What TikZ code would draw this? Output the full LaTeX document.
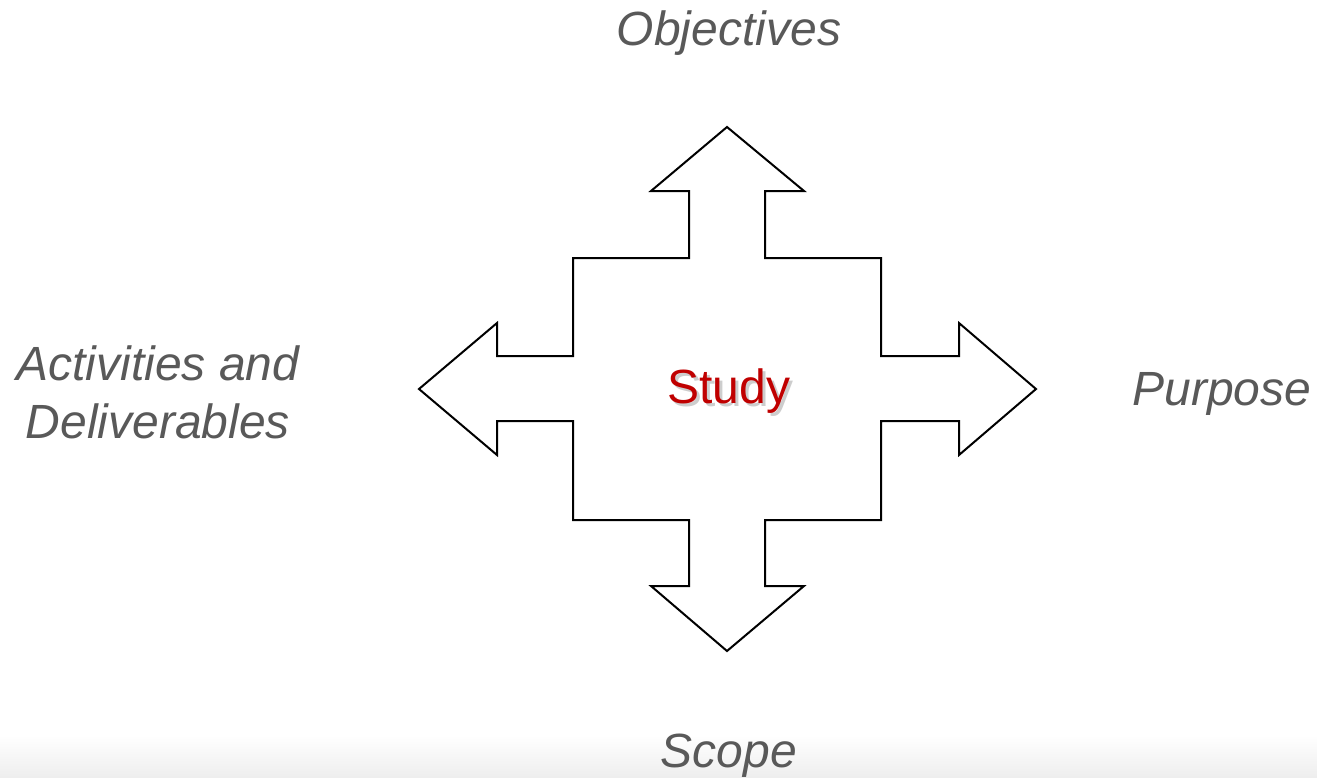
\documentclass[tikz,border=0pt]{standalone}
\usepackage{fontspec}
\setmainfont{Liberation Sans}
\definecolor{labelgray}{RGB}{89,89,89}
\definecolor{studyred}{RGB}{192,0,0}
\definecolor{studyshade}{RGB}{205,205,205}
\definecolor{shadegray}{RGB}{238,238,238}
\newcommand{\shadowtext}[1]{\rlap{\hspace{3pt}\raisebox{-3pt}{\textcolor{studyshade}{#1}}}#1}
\begin{document}
\begin{tikzpicture}[x=1pt,y=-1pt,
  lbl/.style={text=labelgray,font=\fontsize{48}{58}\selectfont\itshape,align=center,inner sep=0pt},
  outline/.style={draw=black,line width=2pt,line join=miter}]
\useasboundingbox (0,0) rectangle (1317,777);
\fill[white] (0,0) rectangle (1317,777);
\shade[top color=white,bottom color=shadegray] (0,735) rectangle (1317,777);
\draw[outline] (727,127) -- (804,191) -- (765,191) -- (765,258) -- (881,258) -- (881,356)
  -- (959,356) -- (959,323) -- (1036,389) -- (959,455) -- (959,421) -- (881,421)
  -- (881,520) -- (765,520) -- (765,586) -- (804,586) -- (727,651) -- (651,586)
  -- (689,586) -- (689,520) -- (573,520) -- (573,421) -- (497,421) -- (497,455)
  -- (419,389) -- (497,323) -- (497,356) -- (573,356) -- (573,258) -- (689,258)
  -- (689,191) -- (651,191) -- cycle;
\node[lbl] (obj) at (729,33) {Objectives};
\node[lbl] (act) at (158,392) {Activities and\\Deliverables};
\node[lbl] (pur) at (1222,394) {Purpose};
\node[lbl] (sco) at (729,756) {Scope};
\node[text=studyred,font=\fontsize{48}{58}\selectfont,inner sep=0pt] (study) at (729,393) {\shadowtext{Study}};
\end{tikzpicture}
\end{document}
